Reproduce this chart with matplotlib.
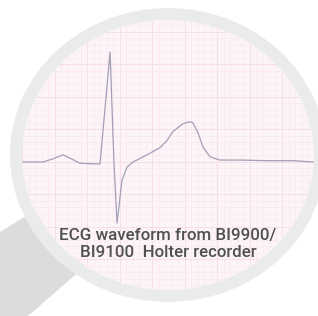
import numpy as np
import matplotlib.pyplot as plt
from matplotlib.patches import Ellipse, Polygon
from matplotlib.transforms import Affine2D

# ECG trace (time in ms, amplitude in mV)
ecg_t = [0, 129, 191, 252, 295, 357, 468, 480, 542, 566, 585, 615, 646,
         683, 769, 849, 892, 929, 991, 1034, 1052, 1083, 1114, 1157, 1218,
         1342, 1508, 1668, 1791, 1822]
ecg_mv = [0.0, 0.0, 0.05, 0.11, 0.06, -0.02, -0.03, -0.03, 1.69, -0.02, -0.94,
          -0.28, -0.08, 0.0, 0.11, 0.22, 0.33, 0.47, 0.59, 0.62, 0.60, 0.45,
          0.23, 0.08, 0.03, 0.03, 0.02, 0.02, 0.0, 0.0]

caption = "ECG waveform from BI9900/\nBI9100  Holter recorder"

fig = plt.figure(figsize=(3.18, 3.16), dpi=100)
ax = fig.add_axes([0, 0, 1, 1])
ax.set_xlim(0, 318)
ax.set_ylim(316, 0)
ax.axis("off")

# magnifier handle
handle = Polygon([(0, 232), (52, 200), (90, 262), (28, 316), (0, 316)],
                 closed=True, facecolor="#dcdcdc", edgecolor="none", zorder=1)
ax.add_patch(handle)

# lens
cx, cy, rx, ry = 168, 155, 146, 135
lens = Ellipse((cx, cy), 2 * rx, 2 * ry, facecolor="#fdf4f7", edgecolor="none", zorder=2)
ax.add_patch(lens)

# paper grid, drawn in ms / mV
ecg_tr = Affine2D().scale(6.5 / 40, -65).translate(22, 162) + ax.transData
for t in np.arange(-400, 2201, 40):
    major = t % 200 == 0
    ln, = ax.plot([t, t], [-3, 3], color="#f7dde6" if major else "#faeaf0",
                  lw=0.7 if major else 0.5, transform=ecg_tr, zorder=3)
    ln.set_clip_path(lens)
for v in np.arange(-3.0, 3.01, 0.1):
    major = abs(v * 2 - round(v * 2)) < 1e-6
    ln, = ax.plot([-400, 2200], [v, v], color="#f7dde6" if major else "#faeaf0",
                  lw=0.7 if major else 0.5, transform=ecg_tr, zorder=3)
    ln.set_clip_path(lens)

trace, = ax.plot(ecg_t, ecg_mv, color="#a29fb6", lw=0.9, transform=ecg_tr,
                 zorder=4, solid_joinstyle="round")
trace.set_clip_path(lens)

# rim
rim = Ellipse((cx, cy), 2 * rx + 12, 2 * ry + 12, facecolor="none",
              edgecolor="#eaebeb", lw=12 * 0.72, zorder=5)
ax.add_patch(rim)

ax.text(168, 244, caption, ha="center", va="center", fontsize=12.2,
        family=["Roboto", "DejaVu Sans"], fontweight="medium",
        color="#505050", linespacing=1.22, zorder=6)

fig.savefig("out.png", dpi=100)
